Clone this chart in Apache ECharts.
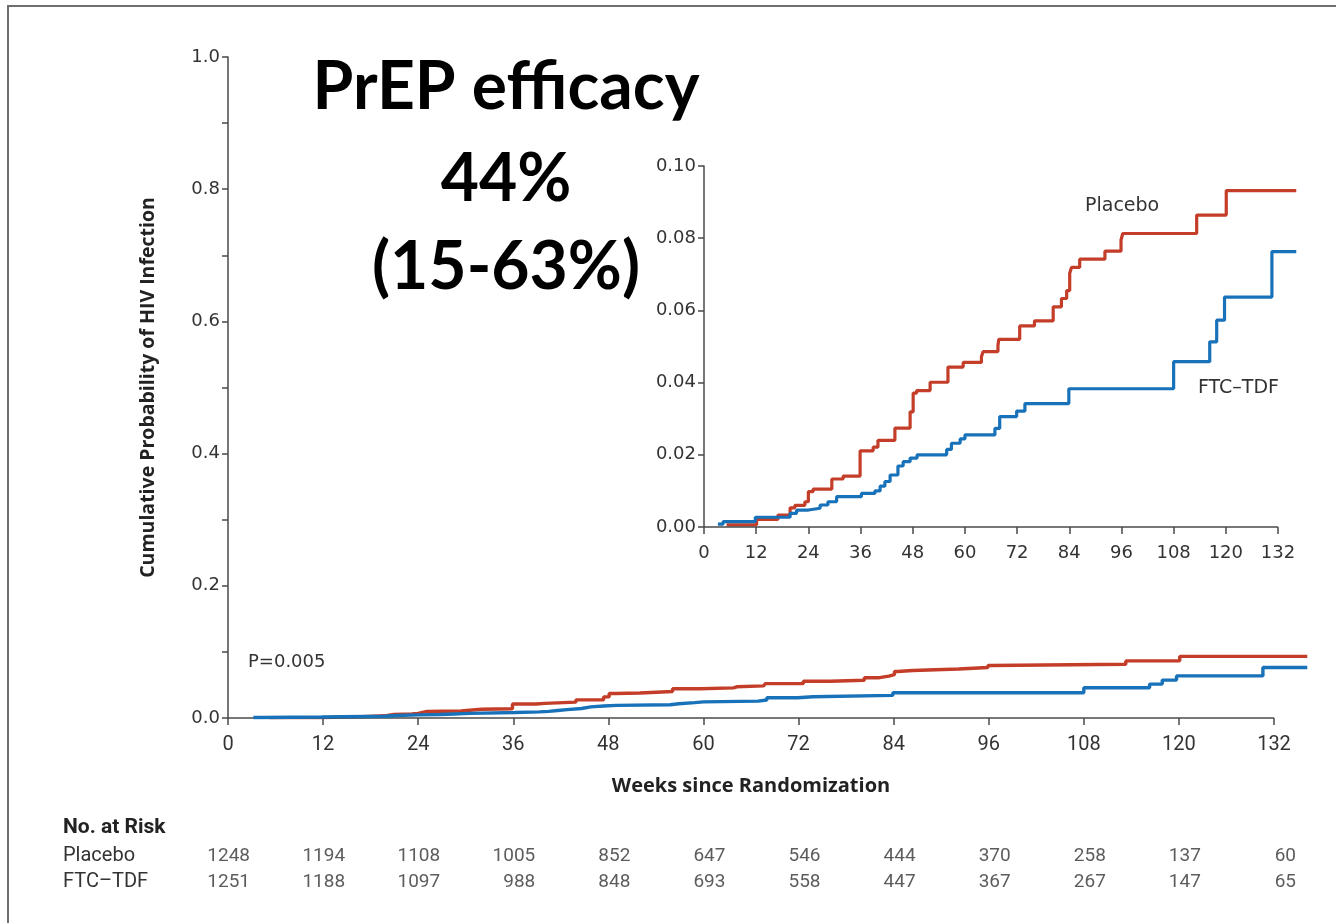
<!DOCTYPE html>
<html>
<head>
<meta charset="utf-8">
<script src="https://cdn.jsdelivr.net/npm/echarts@6/dist/echarts.min.js"></script>
<style>
html,body{margin:0;padding:0;background:#fff;}
#chart{width:1336px;height:923px;}
</style>
</head>
<body>
<div id="chart"></div>
<script>
// ---- Data ----
const placeboSteps = [
  [5.2,0.0006],[12.1,0.0021],[17,0.0033],[19.8,0.0053],[20.9,0.0060],[23.2,0.0070],
  [24,0.0098],[25.1,0.0105],[29.4,0.0133],[32,0.0141],[35.9,0.0211],[38.9,0.0221],
  [40,0.0240],[43.9,0.0274],[47.4,0.0319],[48.1,0.0371],[48.9,0.0378],[52,0.0401],
  [56.1,0.0443],[59.6,0.0456],[63.8,0.0472],[64.2,0.0486],[67.6,0.0503],[67.8,0.0520],
  [72.6,0.0557],[76,0.0571],[80.3,0.0610],[82.2,0.0633],[83.4,0.0655],[84.1,0.0703],
  [84.5,0.0719],[86.4,0.0742],[92.2,0.0764],[95.9,0.0795],[96.3,0.0813],[113.3,0.0864],
  [120.1,0.0932],[136.2,0.0932]
];
const ftcSteps = [
  [3.2,0.0008],[4.4,0.0015],[11.8,0.0027],[19.8,0.0038],[21.3,0.0047],[24,0.0052],
  [26.7,0.0061],[28.5,0.0070],[30.5,0.0084],[36.2,0.0093],[39.3,0.0100],[40.5,0.0113],
  [41.6,0.0126],[42.8,0.0144],[44.6,0.0169],[45.8,0.0181],[47.4,0.0191],[49,0.0200],
  [55.8,0.0215],[56.9,0.0232],[58.9,0.0244],[60,0.0255],[66.9,0.0273],[68,0.0306],
  [71.9,0.0321],[73.8,0.0342],[83.9,0.0383],[108,0.0458],[116.3,0.0513],[117.9,0.0573],
  [119.7,0.0637],[130.6,0.0763],[136.2,0.0763]
];
const xTicks = [0,12,24,36,48,60,72,84,96,108,120,132];
const riskWeeks = [0,12,24,36,48,60,72,84,96,108,120,132];
const placeboRisk = [1248,1194,1108,1005,852,647,546,444,370,258,137,60];
const ftcRisk = [1251,1188,1097,988,848,693,558,447,367,267,147,65];
const riskRowNames = ['Placebo','FTC\u2013TDF'];
const mainYTicks = [0,0.2,0.4,0.6,0.8,1.0];
const X_AXIS_END = 132;   // axis line stops at last tick
const X_MAX = 137;        // curves continue a little past it

const RED = '#c43d28';
const BLUE = '#1872b9';
const AXIS = '#4a4a4a';
const TXT = '#333';

const chart = echarts.init(document.getElementById('chart'));

const riskData = [];
riskWeeks.forEach((w,i)=>{
  riskData.push([w,0.5,placeboRisk[i]]);
  riskData.push([w,1.5,ftcRisk[i]]);
});

const mainW = 1046 * X_MAX / X_AXIS_END;
const insetW = 574 * X_MAX / X_AXIS_END;

function xAxisLineMark(){
  return {silent:true, symbol:['none','none'], label:{show:false},
    lineStyle:{color:AXIS, width:1.5, type:'solid'},
    emphasis:{disabled:true},
    data:[[{coord:[0,0]},{coord:[X_AXIS_END,0]}]]};
}

const option = {
  backgroundColor:'#fff',
  animation:false,
  grid:[
    {left:228, top:57, width:mainW, height:661},
    {left:704, top:166, width:insetW, height:361},
    {left:228, top:843, width:mainW, height:52}
  ],
  xAxis:[
    {gridIndex:0, type:'value', min:0, max:X_MAX, interval:12,
     name:'Weeks since Randomization', nameLocation:'middle', nameGap:58,
     nameTextStyle:{fontFamily:'Open Sans', fontWeight:'bold', fontSize:20, color:'#222',
       padding:[0, (mainW-1046), 0, 0]},
     axisLine:{show:false},
     axisTick:{length:7, customValues:xTicks, lineStyle:{color:AXIS,width:1.5}},
     axisLabel:{fontFamily:'Roboto', fontSize:20, color:TXT, margin:17, customValues:xTicks},
     splitLine:{show:false}},
    {gridIndex:1, type:'value', min:0, max:X_MAX, interval:12,
     axisLine:{show:false},
     axisTick:{length:7, customValues:xTicks, lineStyle:{color:AXIS,width:1.5}},
     axisLabel:{fontFamily:'DejaVu Sans', fontSize:18, color:TXT, margin:17, customValues:xTicks},
     splitLine:{show:false}},
    {gridIndex:2, type:'value', min:0, max:X_MAX, show:false}
  ],
  yAxis:[
    {gridIndex:0, type:'value', min:0, max:1, interval:0.1,
     name:'Cumulative Probability of HIV Infection', nameLocation:'middle', nameGap:70,
     nameTextStyle:{fontFamily:'Open Sans', fontWeight:'bold', fontSize:19.5, color:'#222'},
     axisLine:{show:true, lineStyle:{color:AXIS,width:1.5}},
     axisTick:{show:true, length:6, lineStyle:{color:AXIS,width:1.5}},
     axisLabel:{fontFamily:'DejaVu Sans', fontSize:18, color:TXT, margin:8,
       formatter:v=> mainYTicks.some(t=>Math.abs(t-v)<1e-6) ? v.toFixed(1) : ''},
     splitLine:{show:false}},
    {gridIndex:1, type:'value', min:0, max:0.1, interval:0.02,
     axisLine:{show:true, lineStyle:{color:AXIS,width:1.5}},
     axisTick:{show:true, length:6, lineStyle:{color:AXIS,width:1.5}},
     axisLabel:{fontFamily:'DejaVu Sans', fontSize:18, color:TXT, margin:8,
       formatter:v=>v.toFixed(2)},
     splitLine:{show:false}},
    {gridIndex:2, type:'value', min:0, max:2, inverse:true, show:false}
  ],
  series:[
    {name:'Placebo', type:'line', xAxisIndex:0, yAxisIndex:0, step:'end',
     data:placeboSteps, showSymbol:false, lineStyle:{color:RED,width:3.4}, z:4},
    {name:'FTC-TDF', type:'line', xAxisIndex:0, yAxisIndex:0, step:'end',
     data:ftcSteps, showSymbol:false, lineStyle:{color:BLUE,width:3.4}, z:5,
     markLine:xAxisLineMark()},
    {name:'Placebo inset', type:'line', xAxisIndex:1, yAxisIndex:1, step:'end',
     data:placeboSteps, showSymbol:false, lineStyle:{color:RED,width:3.2}, z:4},
    {name:'FTC-TDF inset', type:'line', xAxisIndex:1, yAxisIndex:1, step:'end',
     data:ftcSteps, showSymbol:false, lineStyle:{color:BLUE,width:3.2}, z:5,
     markLine:xAxisLineMark()},
    {name:'risk', type:'scatter', xAxisIndex:2, yAxisIndex:2, symbolSize:0.1,
     data:riskData, silent:true,
     label:{show:true, position:'inside', align:'right', offset:[22,0],
       formatter:p=>String(p.value[2]), fontFamily:'Roboto', fontSize:19, color:TXT}}
  ],
  graphic:[
    {type:'line', shape:{x1:7, y1:6, x2:1336, y2:6}, style:{stroke:'#6e6e6e', lineWidth:2}},
    {type:'line', shape:{x1:8, y1:5, x2:8, y2:923}, style:{stroke:'#6e6e6e', lineWidth:2}},
    {type:'text', style:{text:'PrEP efficacy', x:506, y:88, textAlign:'center', textVerticalAlign:'middle',
      font:'bold 66px Lato', fill:'#000'}},
    {type:'text', style:{text:'44%', x:506, y:180, textAlign:'center', textVerticalAlign:'middle',
      font:'bold 66px Lato', fill:'#000'}},
    {type:'text', style:{text:'(15-63%)', x:506, y:268, textAlign:'center', textVerticalAlign:'middle',
      font:'bold 66px Lato', fill:'#000'}},
    {type:'text', style:{text:'Placebo', x:1085, y:206, textVerticalAlign:'middle',
      font:'19px "DejaVu Sans"', fill:TXT}},
    {type:'text', style:{text:'FTC\u2013TDF', x:1198, y:388, textVerticalAlign:'middle',
      font:'19px "DejaVu Sans"', fill:TXT}},
    {type:'text', style:{text:'P=0.005', x:248, y:662, textVerticalAlign:'middle',
      font:'18px "DejaVu Sans"', fill:TXT}},
    {type:'text', style:{text:'No. at Risk', x:63, y:828, textVerticalAlign:'middle',
      font:'bold 21px Roboto', fill:'#222'}},
    {type:'text', style:{text:riskRowNames[0], x:63, y:856, textVerticalAlign:'middle',
      font:'20px Roboto', fill:TXT}},
    {type:'text', style:{text:riskRowNames[1], x:63, y:882, textVerticalAlign:'middle',
      font:'20px Roboto', fill:TXT}}
  ]
};
chart.setOption(option);
</script>
</body>
</html>
